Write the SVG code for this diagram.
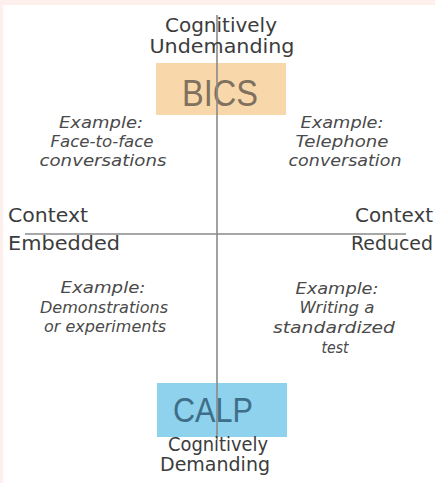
<svg xmlns="http://www.w3.org/2000/svg" width="435" height="483" viewBox="0 0 435 483">
<style>
.lbl{font-family:"DejaVu Sans","Liberation Sans",sans-serif;font-size:19px;fill:#3c3c3c}
.ex{font-family:"DejaVu Sans","Liberation Sans",sans-serif;font-size:16.5px;font-style:italic;fill:#4a4a4a;text-anchor:middle}
.axis{stroke:#8a8a8a;stroke-width:1.6;fill:none}
</style>
<rect x="0" y="0" width="435" height="483" fill="#ffffff"/>
<rect x="0" y="0" width="435" height="5" fill="#fdf0ec"/>
<rect x="0" y="0" width="3" height="483" fill="#fdf0ec"/>
<g id="bics">
<rect x="156" y="63" width="130" height="52" fill="#f8d8aa"/>
<text x="220" y="106" font-family="'Liberation Sans',sans-serif" font-size="36" fill="#7f705f" text-anchor="middle" textLength="76" lengthAdjust="spacingAndGlyphs">BICS</text>
</g>
<g id="calp">
<rect x="157" y="383" width="130" height="54" fill="#8ed2ee"/>
<text x="213" y="422" font-family="'Liberation Sans',sans-serif" font-size="35" fill="#3f6e88" text-anchor="middle" textLength="80" lengthAdjust="spacingAndGlyphs">CALP</text>
</g>
<g id="connectors">
<line class="axis" x1="217" y1="15" x2="217" y2="440"/>
<line class="axis" x1="25" y1="234" x2="406" y2="234"/>
</g>
<g id="top-label">
<text class="lbl" x="221" y="32" text-anchor="middle" textLength="112" lengthAdjust="spacingAndGlyphs">Cognitively</text>
<text class="lbl" x="222" y="53" text-anchor="middle" textLength="145" lengthAdjust="spacingAndGlyphs">Undemanding</text>
</g>
<g id="bottom-label">
<text class="lbl" x="218" y="451" text-anchor="middle" font-size="18" textLength="100" lengthAdjust="spacingAndGlyphs">Cognitively</text>
<text class="lbl" x="215" y="471" text-anchor="middle" font-size="18" textLength="110" lengthAdjust="spacingAndGlyphs">Demanding</text>
</g>
<g id="left-label">
<text class="lbl" x="8" y="222" textLength="80" lengthAdjust="spacingAndGlyphs">Context</text>
<text class="lbl" x="8" y="250" textLength="112" lengthAdjust="spacingAndGlyphs">Embedded</text>
</g>
<g id="right-label">
<text class="lbl" x="433" y="222" text-anchor="end" textLength="78" lengthAdjust="spacingAndGlyphs">Context</text>
<text class="lbl" x="433" y="250" text-anchor="end" textLength="82" lengthAdjust="spacingAndGlyphs">Reduced</text>
</g>
<g id="q1">
<text class="ex" x="101" y="128" textLength="84" lengthAdjust="spacingAndGlyphs">Example:</text>
<text class="ex" x="102" y="147" textLength="103" lengthAdjust="spacingAndGlyphs">Face-to-face</text>
<text class="ex" x="103" y="166" textLength="127" lengthAdjust="spacingAndGlyphs">conversations</text>
</g>
<g id="q2">
<text class="ex" x="342" y="128" textLength="83" lengthAdjust="spacingAndGlyphs">Example:</text>
<text class="ex" x="342" y="147" textLength="93" lengthAdjust="spacingAndGlyphs">Telephone</text>
<text class="ex" x="345" y="166" textLength="113" lengthAdjust="spacingAndGlyphs">conversation</text>
</g>
<g id="q3">
<text class="ex" x="103" y="293" textLength="85" lengthAdjust="spacingAndGlyphs">Example:</text>
<text class="ex" x="104" y="313" textLength="128" lengthAdjust="spacingAndGlyphs">Demonstrations</text>
<text class="ex" x="105" y="332" textLength="122" lengthAdjust="spacingAndGlyphs">or experiments</text>
</g>
<g id="q4">
<text class="ex" x="337" y="294" textLength="83" lengthAdjust="spacingAndGlyphs">Example:</text>
<text class="ex" x="337" y="313" textLength="75" lengthAdjust="spacingAndGlyphs">Writing a</text>
<text class="ex" x="334" y="333" textLength="122" lengthAdjust="spacingAndGlyphs">standardized</text>
<text class="ex" x="335" y="353" textLength="27" lengthAdjust="spacingAndGlyphs">test</text>
</g>
</svg>
